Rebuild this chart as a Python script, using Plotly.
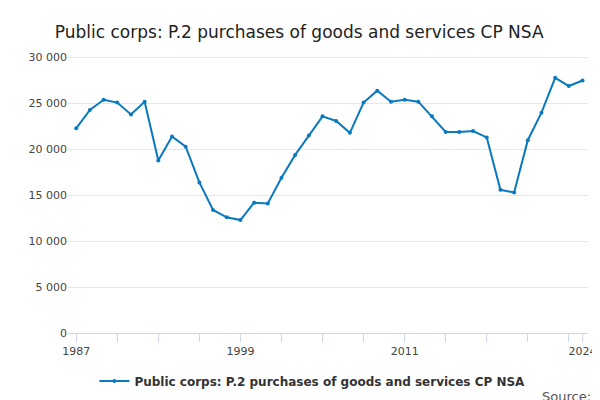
import plotly.graph_objects as go

years = list(range(1987, 2025))
values = [22300, 24300, 25400, 25100, 23800, 25200, 18800, 21400, 20300, 16400,
          13400, 12600, 12300, 14200, 14100, 16900, 19400, 21500, 23600, 23100,
          21800, 25100, 26400, 25200, 25400, 25200, 23600, 21900, 21900, 22000,
          21300, 15600, 15300, 21000, 24000, 27800, 26900, 27500]
tick_years = list(range(1987, 2024, 3)) + [2024]
tick_labels = [str(y) if y in (1987, 1999, 2011, 2024) else "" for y in tick_years]
ytick_vals = [0, 5000, 10000, 15000, 20000, 25000, 30000]
ytick_text = ["0", "5 000", "10 000", "15 000", "20 000", "25 000", "30 000"]

fig = go.Figure(go.Scatter(
    x=years, y=values, mode="lines+markers",
    name="Public corps: P.2 purchases of goods and services CP NSA",
    line=dict(color="#0a79be", width=2), marker=dict(size=4, color="#0a79be")))

fig.update_layout(
    width=600, height=400, plot_bgcolor="white", paper_bgcolor="white",
    font=dict(family="DejaVu Sans", color="#444"),
    title=dict(text="Public corps: P.2 purchases of goods and services CP NSA",
               x=0.078, xanchor="left", y=0.955, font=dict(size=17, color="#222")),
    margin=dict(l=60, r=20, t=45, b=73),
    showlegend=True,
    legend=dict(orientation="h", x=0.47, xanchor="center", y=-0.12,
                font=dict(size=12, color="#333", weight="bold")),
    annotations=[dict(text="Source:", x=1.01, y=-0.26, xref="paper", yref="paper",
                      xanchor="right", showarrow=False, font=dict(size=13, color="#555"))],
)
fig.update_xaxes(range=[1986.4, 2024.4], tickvals=tick_years, ticktext=tick_labels,
                 ticks="outside", tickcolor="#ccd6eb", ticklen=8, showline=True,
                 linecolor="#ccd6eb", showgrid=False, tickfont=dict(size=11))
fig.update_yaxes(range=[0, 30500], tickvals=ytick_vals, ticktext=ytick_text,
                 gridcolor="#e6e6e6", zeroline=False, tickfont=dict(size=11))

fig.write_html("out.html")
